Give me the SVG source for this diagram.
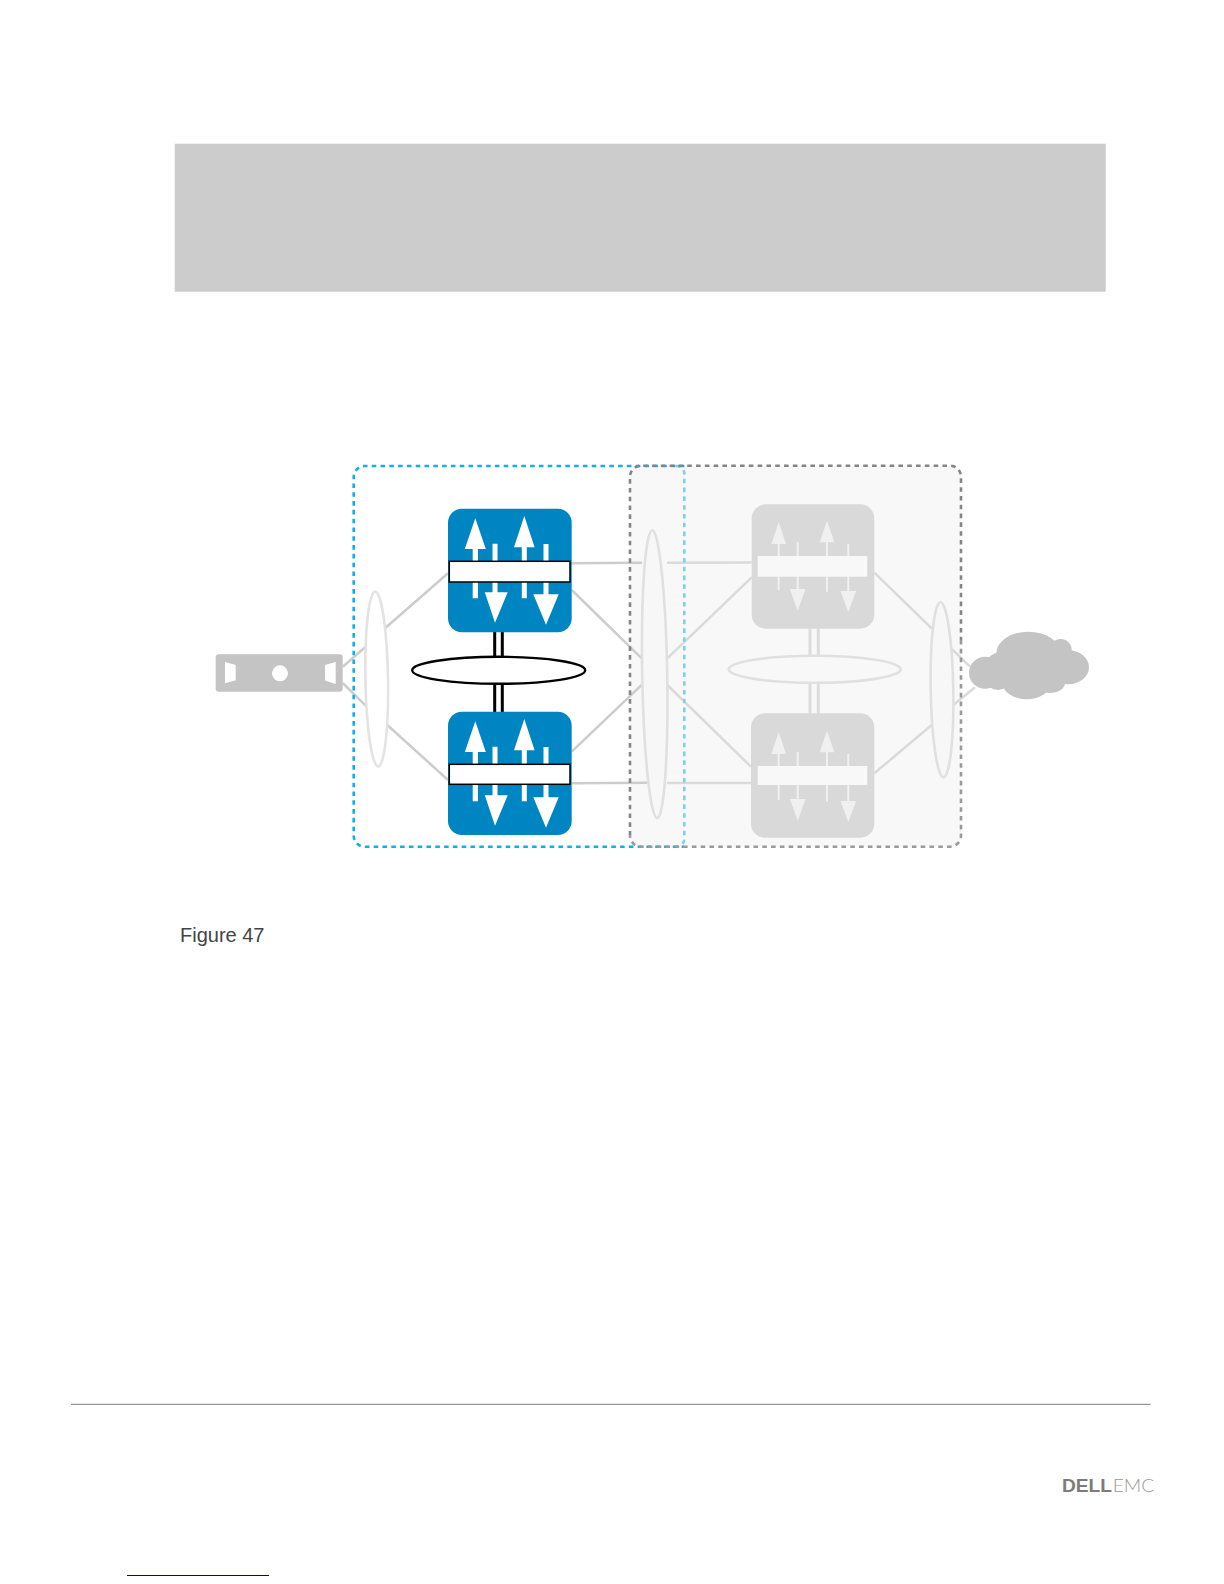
<svg xmlns="http://www.w3.org/2000/svg" width="1224" height="1584" viewBox="0 0 1224 1584">
<style>
.lnk{stroke:#cdcdcd;stroke-width:2.5;fill:none}
.lnkf{stroke:#dadada;stroke-width:2.5;fill:none}
.ell{fill:#fff;stroke:#e3e3e3;stroke-width:2.6}
.ellf{fill:#f7f7f7;stroke:#e0e0e0;stroke-width:2.6}
.sw{fill:#0085c3}
.swf{fill:#d9d9d9}
.wa{fill:#fff}
.fa{fill:#f0f0f0}
.dash{stroke-width:2.6;stroke-dasharray:4.6 4.2;fill:none}
.txt{font-family:"Liberation Sans",Arial,sans-serif}
</style>
<defs>
<g id="arrows">
<path class="wa" d="M475.3 518.3l10.5 30.7h-7.9v49.3h-5.2v-49.3h-7.9zM524.3 516l10.3 31.3h-7.8v51h-5v-51h-7.8zM492.5 543.7h5v48.6h10.2L495 622.7l-10.2-30.4h7.7zM543.5 544h5v50.3h10.2L546 624.7l-12.7-30.4h10.2z"/>
</g>
<g id="arrowsf">
<path class="fa" d="M778.7 522l7.3 22h-6.3v46h-2v-46h-6.3zM827 520.7l7.3 21.6h-6.3v49.4h-2v-49.4h-6.3zM796.7 541.7h2V589h6.8l-7.8 22-7.8-22h6.8zM847.3 544h2v47h6.8l-7.8 21.3-7.8-21.3h6.8z"/>
</g>
</defs>
<rect width="1224" height="1584" fill="#fff"/>
<rect id="banner" x="174.7" y="143.7" width="931" height="148" fill="#cccccc"/>
<g id="region-grey">
<rect x="630" y="465.7" width="331" height="381" rx="11" fill="#f8f8f8"/>
</g>
<g id="connectors">
<path class="lnk" d="M342.7 666.7L365.7 646.7M342.7 683L366.7 706.7M448 573.3L385 628.3M448 780L387.3 725"/>
<path class="lnk" d="M571.7 563.3L642 562.8M571.7 590L641.7 658.3M571.7 751.7L643.3 683.3M571.7 783.3L647 782.7"/>
<path class="lnkf" d="M667 562.8L751.7 562.5M667.3 658.3L751.7 577.3M667.3 685L751 766.7M667 783L751 783"/>
<path class="lnkf" d="M874.3 572.7L931.7 628.3M874.3 773.3L931.7 725M951.7 649L970 666.7M953.3 705L975 687.3"/>
<path d="M494.7 632V712M502.3 632V712" stroke="#000" stroke-width="3" fill="none"/>
<path d="M810 628V714M818.3 628V714" stroke="#dcdcdc" stroke-width="3" fill="none"/>
</g>
<g id="server">
<rect x="215.7" y="654.3" width="127" height="37.4" rx="3" fill="#c4c4c4"/>
<path d="M225 662l10.7 3v15.3L225 683.3zM335.7 662l-10.7 3v15.6l10.7 3.4z" fill="#fff"/>
<circle cx="280" cy="673.3" r="8" fill="#fff"/>
</g>
<ellipse id="lag-left" class="ell" cx="376.7" cy="679" rx="11.3" ry="87.5" transform="rotate(-1 376.7 679)"/>
<g id="switch-a1">
<rect class="sw" x="448" y="508.7" width="123.7" height="123.6" rx="14"/>
<use href="#arrows"/>
<rect x="449.3" y="561.3" width="120.7" height="20.7" fill="#fff" stroke="#000" stroke-width="1.5"/>
</g>
<g id="switch-a2">
<rect class="sw" x="448" y="711.7" width="123.7" height="123.3" rx="14"/>
<use href="#arrows" y="203"/>
<rect x="449.3" y="764.3" width="120.7" height="20" fill="#fff" stroke="#000" stroke-width="1.5"/>
</g>
<ellipse id="vlt-a" cx="498.7" cy="670.3" rx="86.5" ry="13.5" fill="#fff" stroke="#000" stroke-width="2.4"/>
<g id="region-blue">
<path class="dash" stroke="#12aee5" d="M684.3 466H364.7a11 11 0 0 0-11 11V835.7a11 11 0 0 0 11 11H684"/>
<path class="dash" stroke="#7fd0ee" d="M676 466a8 8 0 0 1 8.3 9V838a8 8 0 0 1-8.3 8.7"/>
<path class="dash" stroke="#858585" d="M630 835.7V476.7a11 11 0 0 1 11-11H950a11 11 0 0 1 11 11V640"/>
<path class="dash" stroke="#9a9a9a" d="M961 640V835.7a11 11 0 0 1-11 11H641a11 11 0 0 1-11-11"/>
</g>
<ellipse id="lag-mid" class="ellf" cx="654.7" cy="674.2" rx="12.5" ry="144" transform="rotate(-1 654.7 674.2)"/>
<g id="switch-b1">
<rect class="swf" x="751.7" y="504.3" width="122.6" height="124.4" rx="14"/>
<use href="#arrowsf"/>
<rect x="757.7" y="556" width="109.6" height="20.7" fill="#f8f8f8"/>
</g>
<g id="switch-b2">
<rect class="swf" x="751" y="713.3" width="123.3" height="124.4" rx="14"/>
<use href="#arrowsf" y="210"/>
<rect x="757.7" y="766" width="109.6" height="19" fill="#f8f8f8"/>
</g>
<ellipse id="vlt-b" cx="814.7" cy="669.3" rx="86" ry="13.5" fill="#f8f8f8" stroke="#e0e0e0" stroke-width="2.6"/>
<ellipse id="lag-right" class="ellf" cx="942" cy="689.8" rx="11.3" ry="87.5" transform="rotate(-1 942 689.8)"/>
<g id="cloud" fill="#c4c4c4">
<ellipse cx="1028.3" cy="653.3" rx="32" ry="21.6"/>
<ellipse cx="1060.7" cy="650" rx="11" ry="11"/>
<ellipse cx="1068.3" cy="667.3" rx="20.7" ry="17"/>
<ellipse cx="985" cy="672.7" rx="16" ry="16"/>
<ellipse cx="998" cy="680" rx="12" ry="10"/>
<ellipse cx="1002" cy="665" rx="16" ry="13"/>
<ellipse cx="1026.7" cy="683.3" rx="24" ry="16"/>
<ellipse cx="1033" cy="673" rx="33" ry="20"/>
<ellipse cx="1050" cy="683" rx="15" ry="10"/>
</g>
<text class="txt" x="180" y="941.5" font-size="20" fill="#444">Figure 47</text>
<path id="footer-rule" d="M71 1404.3H1150.7" stroke="#999" stroke-width="1.2"/>
<g id="logo">
<text x="1062" y="1491.5" font-size="18.5" font-family="'Liberation Sans',Arial,sans-serif" font-weight="bold" fill="#7c7c7c" textLength="50" lengthAdjust="spacingAndGlyphs">DELL</text>
<text x="1112.7" y="1491.5" font-size="18.5" font-family="Lato,'Liberation Sans',sans-serif" font-weight="300" fill="#999" textLength="41.6" lengthAdjust="spacingAndGlyphs">EMC</text>
</g>
<path id="link-rule" d="M127 1575.5H269" stroke="#0000a0" stroke-width="1.2"/>
</svg>
